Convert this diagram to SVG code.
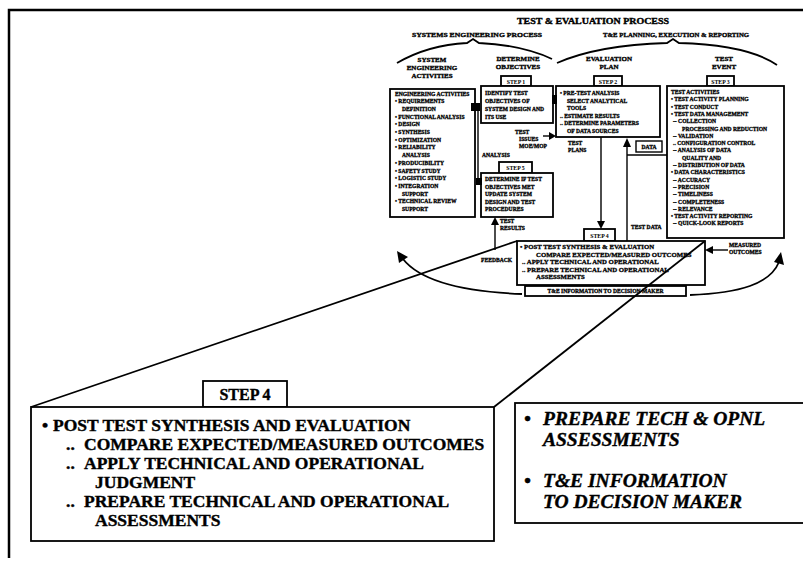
<svg xmlns="http://www.w3.org/2000/svg" width="803" height="564" viewBox="0 0 803 564">
<style>
  text { font-family: "Liberation Serif", "Times New Roman", serif; font-weight: bold; fill: #000; }
  .s { font-size: 5.6px; stroke: #000; stroke-width: 0.3; }
  .m { font-size: 6.8px; stroke: #000; stroke-width: 0.3; }
  .lbl { font-size: 7px; text-anchor: middle; stroke: #000; stroke-width: 0.35; }
  .tab { font-size: 5.8px; text-anchor: middle; }
  .hd { stroke: #000; stroke-width: 0.35; }
  .big { font-size: 17.5px; stroke: #000; stroke-width: 0.4; }
  .bi { font-size: 19.5px; font-style: italic; stroke: #000; stroke-width: 0.4; }
  .box { fill: #fff; stroke: #000; stroke-width: 1.8; }
  .ln { fill: none; stroke: #000; stroke-width: 1.8; }
  .thin { fill: none; stroke: #000; stroke-width: 1.4; }
  .ah { fill: #000; stroke: none; }
</style>
<rect width="803" height="564" fill="#fff"/>
<path d="M9 558 L9 10 L803 10" fill="none" stroke="#000" stroke-width="2.5"/>

<g id="header">
  <text class="hd" x="593" y="24" font-size="8" text-anchor="middle" textLength="152" lengthAdjust="spacingAndGlyphs">TEST &amp; EVALUATION PROCESS</text>
  <text class="hd" x="477" y="37" font-size="7" text-anchor="middle" textLength="130" lengthAdjust="spacingAndGlyphs">SYSTEMS ENGINEERING PROCESS</text>
  <text class="hd" x="676" y="37" font-size="7" text-anchor="middle" textLength="146" lengthAdjust="spacingAndGlyphs">T&amp;E PLANNING, EXECUTION &amp; REPORTING</text>
  <path class="ln" d="M397 63 Q428 45 467 43 L473 39 L479 43 Q522 45 552 59"/>
  <path class="ln" d="M557 63 Q598 45 667 43 L673 39 L679 43 Q748 45 777 65"/>
</g>

<g id="col1">
  <text class="lbl" x="432" y="62">SYSTEM</text>
  <text class="lbl" x="432" y="70">ENGINEERING</text>
  <text class="lbl" x="432" y="78">ACTIVITIES</text>
  <rect class="box" x="390" y="89" width="85" height="128"/>
  <text class="s" x="395" y="95.5">ENGINEERING ACTIVITIES</text>
  <text class="s" x="395" y="103.2">• REQUIREMENTS</text>
  <text class="s" x="402" y="110.9">DEFINITION</text>
  <text class="s" x="395" y="118.6">• FUNCTIONAL ANALYSIS</text>
  <text class="s" x="395" y="126.3">• DESIGN</text>
  <text class="s" x="395" y="134">• SYNTHESIS</text>
  <text class="s" x="395" y="141.7">• OPTIMIZATION</text>
  <text class="s" x="395" y="149.4">• RELIABILITY</text>
  <text class="s" x="402" y="157.1">ANALYSIS</text>
  <text class="s" x="395" y="164.8">• PRODUCIBILITY</text>
  <text class="s" x="395" y="172.5">• SAFETY STUDY</text>
  <text class="s" x="395" y="180.2">• LOGISTIC STUDY</text>
  <text class="s" x="395" y="187.9">• INTEGRATION</text>
  <text class="s" x="402" y="195.6">SUPPORT</text>
  <text class="s" x="395" y="203.3">• TECHNICAL REVIEW</text>
  <text class="s" x="402" y="211">SUPPORT</text>
</g>

<g id="step1">
  <text class="lbl" x="518" y="61">DETERMINE</text>
  <text class="lbl" x="518" y="69">OBJECTIVES</text>
  <rect class="box" x="501" y="76" width="30" height="10"/>
  <text class="tab" x="516" y="83.5">STEP 1</text>
  <rect class="box" x="481" y="86" width="72" height="37"/>
  <text class="s" x="485" y="95">IDENTIFY TEST</text>
  <text class="s" x="485" y="103">OBJECTIVES OF</text>
  <text class="s" x="485" y="111">SYSTEM DESIGN AND</text>
  <text class="s" x="485" y="119">ITS USE</text>
</g>

<g id="step5">
  <text class="s" x="482" y="157">ANALYSIS</text>
  <rect class="box" x="499" y="162" width="33" height="11"/>
  <text class="tab" x="515.5" y="170">STEP 5</text>
  <rect class="box" x="481" y="173" width="72" height="44"/>
  <text class="s" x="485" y="181">DETERMINE IF TEST</text>
  <text class="s" x="485" y="188.5">OBJECTIVES MET</text>
  <text class="s" x="485" y="196">UPDATE SYSTEM</text>
  <text class="s" x="485" y="203.5">DESIGN AND TEST</text>
  <text class="s" x="485" y="211">PROCEDURES</text>
</g>

<g id="step2">
  <text class="lbl" x="609" y="61">EVALUATION</text>
  <text class="lbl" x="609" y="69">PLAN</text>
  <rect class="box" x="594" y="76" width="28" height="10"/>
  <text class="tab" x="608" y="83.5">STEP 2</text>
  <rect class="box" x="556" y="86" width="104" height="51"/>
  <text class="s" x="560" y="95">• PRE-TEST ANALYSIS</text>
  <text class="s" x="567" y="102.5">SELECT ANALYTICAL</text>
  <text class="s" x="567" y="110">TOOLS</text>
  <text class="s" x="560" y="117.5">..  ESTIMATE RESULTS</text>
  <text class="s" x="560" y="125">..  DETERMINE PARAMETERS</text>
  <text class="s" x="567" y="132.5">OF DATA SOURCES</text>
</g>

<g id="step3">
  <text class="lbl" x="724" y="61">TEST</text>
  <text class="lbl" x="724" y="69">EVENT</text>
  <rect class="box" x="707" y="76" width="27" height="10"/>
  <text class="tab" x="720.5" y="83.5">STEP 3</text>
  <rect class="box" x="667" y="86" width="117" height="152"/>
  <text class="s" x="671" y="94">TEST ACTIVITIES</text>
  <text class="s" x="671" y="101.3">• TEST ACTIVITY PLANNING</text>
  <text class="s" x="671" y="108.6">• TEST CONDUCT</text>
  <text class="s" x="671" y="115.9">• TEST DATA MANAGEMENT</text>
  <text class="s" x="673" y="123.2">-- COLLECTION</text>
  <text class="s" x="682" y="130.5">PROCESSING AND REDUCTION</text>
  <text class="s" x="673" y="137.8">-- VALIDATION</text>
  <text class="s" x="673" y="145.1">.. CONFIGURATION CONTROL</text>
  <text class="s" x="673" y="152.4">-- ANALYSIS OF DATA</text>
  <text class="s" x="682" y="159.7">QUALITY AND</text>
  <text class="s" x="673" y="167">-- DISTRIBUTION OF DATA</text>
  <text class="s" x="671" y="174.3">• DATA CHARACTERISTICS</text>
  <text class="s" x="673" y="181.6">-- ACCURACY</text>
  <text class="s" x="673" y="188.9">-- PRECISION</text>
  <text class="s" x="673" y="196.2">-- TIMELINESS</text>
  <text class="s" x="673" y="203.5">-- COMPLETENESS</text>
  <text class="s" x="673" y="210.8">-- RELEVANCE</text>
  <text class="s" x="671" y="218.1">• TEST ACTIVITY REPORTING</text>
  <text class="s" x="673" y="225.4">-- QUICK-LOOK REPORTS</text>
</g>

<g id="step4mini">
  <rect class="box" x="584" y="229" width="31" height="12"/>
  <text class="tab" x="599.5" y="237.5">STEP 4</text>
  <rect class="box" x="517" y="241" width="188" height="44"/>
  <text class="m" x="520" y="249">• POST TEST SYNTHESIS &amp; EVALUATION</text>
  <text class="m" x="536" y="256.5">COMPARE EXPECTED/MEASURED OUTCOMES</text>
  <text class="m" x="522" y="264">..  APPLY TECHNICAL AND OPERATIONAL</text>
  <text class="m" x="522" y="271.5">..  PREPARE TECHNICAL AND OPERATIONAL</text>
  <text class="m" x="536" y="279">ASSESSMENTS</text>
  <rect class="box" x="525" y="286" width="161" height="10"/>
  <text class="s" x="605.5" y="293.3" text-anchor="middle">T&amp;E INFORMATION TO DECISION MAKER</text>
</g>

<g id="labels">
  <text class="s" x="515" y="134">TEST</text>
  <text class="s" x="519" y="141">ISSUES</text>
  <text class="s" x="519" y="148">MOE/MOP</text>
  <text class="s" x="568" y="145">TEST</text>
  <text class="s" x="568" y="152">PLANS</text>
  <rect class="thin" x="636" y="141" width="26" height="11"/>
  <text class="s" x="649" y="148.5" text-anchor="middle">DATA</text>
  <text class="s" x="631" y="229">TEST DATA</text>
  <text class="s" x="500" y="223">TEST</text>
  <text class="s" x="500" y="229.5">RESULTS</text>
  <text class="s" x="481" y="262">FEEDBACK</text>
  <text class="s" x="729" y="247">MEASURED</text>
  <text class="s" x="729" y="253.5">OUTCOMES</text>
</g>

<g id="step4">
  <rect class="box" x="203" y="381" width="84" height="26"/>
  <text class="hd" x="245" y="399.5" font-size="16" text-anchor="middle">STEP 4</text>
  <rect class="box" x="31" y="407" width="463" height="134"/>
  <text class="big" x="42" y="431">•</text>
  <text class="big" x="53" y="431">POST TEST SYNTHESIS AND EVALUATION</text>
  <text class="big" x="66" y="450">..</text>
  <text class="big" x="84" y="450">COMPARE EXPECTED/MEASURED OUTCOMES</text>
  <text class="big" x="66" y="469">..</text>
  <text class="big" x="84" y="469">APPLY TECHNICAL AND OPERATIONAL</text>
  <text class="big" x="95" y="488">JUDGMENT</text>
  <text class="big" x="66" y="507">..</text>
  <text class="big" x="84" y="507">PREPARE TECHNICAL AND OPERATIONAL</text>
  <text class="big" x="95" y="526">ASSESSMENTS</text>
</g>

<g id="outputs">
  <rect class="box" x="515" y="403" width="300" height="120"/>
  <text class="bi" x="524" y="425">•</text>
  <text class="bi" x="543" y="425">PREPARE TECH &amp; OPNL</text>
  <text class="bi" x="543" y="446">ASSESSMENTS</text>
  <text class="bi" x="524" y="487">•</text>
  <text class="bi" x="543" y="487">T&amp;E INFORMATION</text>
  <text class="bi" x="543" y="508">TO DECISION MAKER</text>
</g>

<g id="connectors">
  <rect class="ah" x="471" y="103" width="9" height="8"/>
  <path class="thin" d="M478 111 L478 181 L481 181"/>
  <rect class="ah" x="476" y="178" width="6" height="7"/>
  <rect class="ah" x="552" y="95" width="5" height="9"/>
  <path class="thin" d="M543 136 L550 136"/>
  <polygon class="ah" points="549,132 556,136 549,140"/>
  <path class="thin" d="M601 137 L601 222"/>
  <polygon class="ah" points="597,221 605,221 601,229"/>
  <path class="thin" d="M627 241 L627 146"/>
  <polygon class="ah" points="623,147 631,147 627,138"/>
  <path class="thin" d="M627 155 L667 155"/>
  <path class="thin" d="M495 250 L495 224"/>
  <polygon class="ah" points="491,225 499,225 495,217"/>
  <path class="thin" d="M728 250 L712 250"/>
  <polygon class="ah" points="713,246 705,250 713,254"/>
  <path class="ln" d="M522 294 C470 292 422 283 403 259"/>
  <polygon class="ah" points="397,251 408,257 399,263"/>
  <path class="ln" d="M690 295 C740 293 770 284 779 262"/>
  <polygon class="ah" points="781,252 784,265 774,262"/>
  <path class="ln" d="M517 241 L31 407"/>
  <path class="ln" d="M705 241 L494 407"/>
</g>
</svg>
